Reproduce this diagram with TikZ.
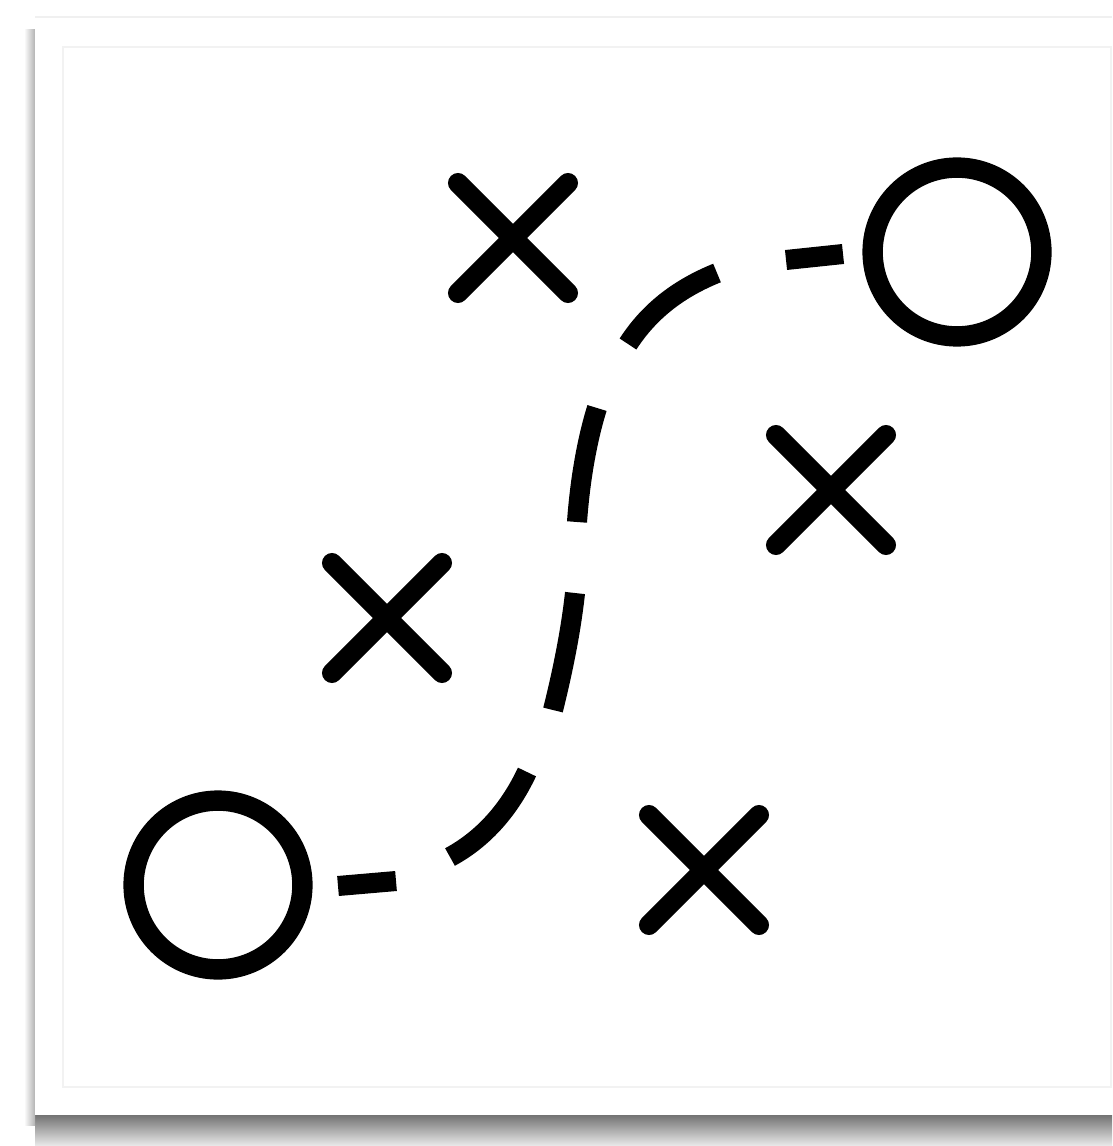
\documentclass[tikz,border=0pt]{standalone}
\begin{document}
\begin{tikzpicture}[x=0.01cm,y=-0.01cm,
  xmark/.style={line width=5.7pt,line cap=round},
  dashpiece/.style={line width=5.7pt,line cap=butt},
  ring/.style={draw,circle,line width=5.8pt,inner sep=0pt,minimum size=48pt}]
\useasboundingbox (0,0) rectangle (1112,1146);
% shadows
\shade[top color=black!55,bottom color=black!8] (35,1115) rectangle (1112,1146);
\shade[left color=white,right color=black!30] (24,30) rectangle (35,1125);
% card
\fill[white] (35,17) rectangle (1112,1115);
\draw[black!6,line width=0.6pt] (35,17) -- (1112,17);
\draw[black!5,line width=0.4pt] (63,47) rectangle (1111,1087);
% circles
\node[ring] (start) at (218,885) {};
\node[ring] (goal) at (957,252) {};
% crosses
\foreach \n/\cx/\cy in {x1/513/238, x2/831/490, x3/387/618, x4/704/870}{
  \coordinate (\n) at (\cx,\cy);
  \draw[xmark] ([shift={(-55,-55)}]\n) -- ([shift={(55,55)}]\n);
  \draw[xmark] ([shift={(-55,55)}]\n) -- ([shift={(55,-55)}]\n);
}
% dashed route
\draw[dashpiece] (338,886) -- (396,881);
\draw[dashpiece] (450,857) .. controls (485,838) and (510,808) .. (527,772);
\draw[dashpiece] (553,710) .. controls (563,670) and (571,630) .. (575,593);
\draw[dashpiece] (577,522) .. controls (580,480) and (587,440) .. (597,408);
\draw[dashpiece] (628,344) .. controls (650,310) and (680,288) .. (717,273);
\draw[dashpiece] (786,260) -- (843,254);
\end{tikzpicture}
\end{document}
